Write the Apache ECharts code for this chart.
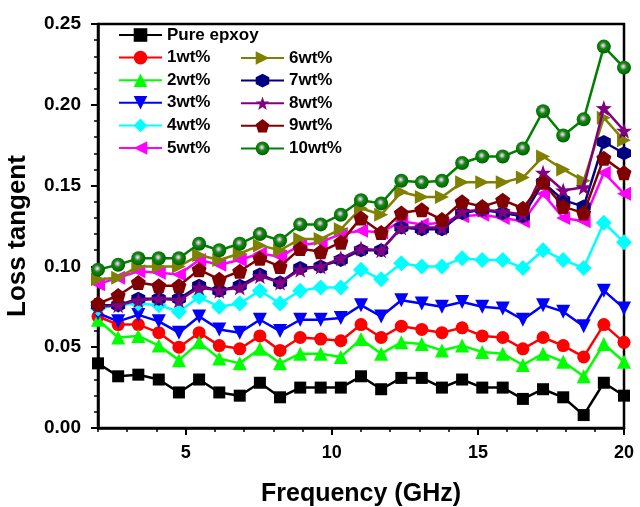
<!DOCTYPE html>
<html>
<head>
<meta charset="utf-8">
<script src="https://cdn.jsdelivr.net/npm/echarts@6/dist/echarts.min.js"></script>
<style>
html,body{margin:0;padding:0;background:#fff;}
#chart{width:640px;height:507px;}
</style>
</head>
<body>
<div id="chart"></div>
<script>
// Frequency points (GHz) where markers are drawn
const freq = [2.00, 2.69, 3.38, 4.08, 4.77, 5.46, 6.15, 6.85, 7.54, 8.23, 8.92, 9.62, 10.31, 11.00, 11.69, 12.38, 13.08, 13.77, 14.46, 15.15, 15.85, 16.54, 17.23, 17.92, 18.62, 19.31, 20.00];

const pureEpoxy = [0.040, 0.032, 0.033, 0.030, 0.022, 0.030, 0.022, 0.020, 0.028, 0.019, 0.025, 0.025, 0.025, 0.032, 0.024, 0.031, 0.031, 0.025, 0.030, 0.025, 0.025, 0.018, 0.024, 0.019, 0.008, 0.028, 0.020];
const wt1 = [0.069, 0.064, 0.064, 0.059, 0.050, 0.059, 0.051, 0.049, 0.057, 0.048, 0.056, 0.055, 0.054, 0.064, 0.056, 0.063, 0.061, 0.059, 0.062, 0.057, 0.056, 0.049, 0.056, 0.051, 0.044, 0.064, 0.053];
const wt2 = [0.067, 0.056, 0.057, 0.051, 0.042, 0.053, 0.043, 0.040, 0.049, 0.040, 0.046, 0.046, 0.044, 0.055, 0.046, 0.053, 0.052, 0.048, 0.051, 0.047, 0.046, 0.039, 0.046, 0.041, 0.032, 0.052, 0.041];
const wt3 = [0.071, 0.066, 0.070, 0.066, 0.059, 0.069, 0.061, 0.059, 0.067, 0.060, 0.067, 0.067, 0.068, 0.076, 0.069, 0.079, 0.077, 0.075, 0.078, 0.075, 0.074, 0.067, 0.076, 0.072, 0.063, 0.085, 0.074];
const wt4 = [0.074, 0.076, 0.077, 0.076, 0.072, 0.081, 0.075, 0.077, 0.085, 0.077, 0.085, 0.087, 0.087, 0.098, 0.092, 0.102, 0.100, 0.100, 0.105, 0.104, 0.104, 0.099, 0.110, 0.104, 0.099, 0.127, 0.115];
const wt5 = [0.089, 0.093, 0.097, 0.096, 0.095, 0.104, 0.101, 0.104, 0.108, 0.106, 0.113, 0.115, 0.120, 0.122, 0.121, 0.128, 0.126, 0.127, 0.131, 0.132, 0.130, 0.128, 0.145, 0.130, 0.128, 0.158, 0.145];
const wt6 = [0.092, 0.093, 0.100, 0.100, 0.100, 0.107, 0.104, 0.108, 0.113, 0.110, 0.117, 0.117, 0.123, 0.136, 0.132, 0.146, 0.143, 0.143, 0.152, 0.152, 0.152, 0.155, 0.168, 0.160, 0.153, 0.192, 0.178];
const wt7 = [0.076, 0.076, 0.080, 0.080, 0.080, 0.088, 0.085, 0.088, 0.095, 0.090, 0.099, 0.100, 0.104, 0.110, 0.110, 0.124, 0.123, 0.123, 0.133, 0.135, 0.133, 0.131, 0.152, 0.141, 0.137, 0.177, 0.170];
const wt8 = [0.075, 0.076, 0.079, 0.080, 0.079, 0.087, 0.085, 0.087, 0.094, 0.090, 0.098, 0.100, 0.105, 0.111, 0.110, 0.124, 0.124, 0.124, 0.134, 0.135, 0.134, 0.132, 0.158, 0.147, 0.149, 0.198, 0.184];
const wt9 = [0.077, 0.082, 0.090, 0.088, 0.088, 0.098, 0.092, 0.097, 0.105, 0.100, 0.111, 0.109, 0.115, 0.130, 0.121, 0.133, 0.135, 0.129, 0.140, 0.137, 0.141, 0.136, 0.152, 0.137, 0.133, 0.167, 0.158];
const wt10 = [0.098, 0.101, 0.105, 0.105, 0.105, 0.114, 0.110, 0.114, 0.120, 0.116, 0.126, 0.126, 0.132, 0.141, 0.139, 0.153, 0.152, 0.153, 0.164, 0.168, 0.168, 0.173, 0.196, 0.181, 0.191, 0.236, 0.223];

const seriesNames = ['Pure epxoy', '1wt%', '2wt%', '3wt%', '4wt%', '5wt%', '6wt%', '7wt%', '8wt%', '9wt%', '10wt%'];
const xMajorTicks = [5, 10, 15, 20];

const hexagon = 'path://M0,-10 L8.66,-5 L8.66,5 L0,10 L-8.66,5 L-8.66,-5Z';
const pentagon = 'path://M0,-10 L9.51,-3.09 L5.88,8.09 L-5.88,8.09 L-9.51,-3.09Z';
const star = 'path://M0,-10 L2.35,-3.24 L9.51,-3.09 L3.80,1.24 L5.88,8.09 L0,4 L-5.88,8.09 L-3.80,1.24 L-9.51,-3.09 L-2.35,-3.24Z';

const styles = [
  {color: '#000000', symbol: 'rect', size: 12, rot: 0},
  {color: '#ff0000', symbol: 'circle', size: 13, rot: 0},
  {color: '#00ff00', symbol: 'triangle', size: 14, rot: 0},
  {color: '#0000ff', symbol: 'triangle', size: 14, rot: 180},
  {color: '#00ffff', symbol: 'diamond', size: 16, rot: 0},
  {color: '#ff00ff', symbol: 'triangle', size: 14, rot: 90},
  {color: '#808000', symbol: 'triangle', size: 14, rot: -90},
  {color: '#000080', symbol: hexagon, size: 14, rot: 0},
  {color: '#800080', symbol: star, size: 16, rot: 0},
  {color: '#800000', symbol: pentagon, size: 15, rot: 0},
  {color: '#008000', symbol: 'circle', size: 14, rot: 0}
];
const values = [pureEpoxy, wt1, wt2, wt3, wt4, wt5, wt6, wt7, wt8, wt9, wt10];

const series = values.map((vals, k) => {
  const st = styles[k];
  let itemColor = st.color;
  if (k === 10) {
    itemColor = {
      type: 'radial', x: 0.45, y: 0.42, r: 0.55,
      colorStops: [
        {offset: 0, color: '#f0f0f0'},
        {offset: 0.25, color: '#a0a0a0'},
        {offset: 0.45, color: '#108a10'},
        {offset: 1, color: '#006400'}
      ]
    };
  }
  return {
    name: seriesNames[k],
    type: 'line',
    data: freq.map((f, i) => [f, vals[i]]),
    symbol: st.symbol,
    symbolSize: st.size,
    symbolRotate: st.rot,
    showAllSymbol: true,
    lineStyle: {color: st.color, width: 2.5},
    itemStyle: {color: itemColor, borderWidth: 0},
    emphasis: {disabled: true},
    z: 3 + k
  };
});

const chart = echarts.init(document.getElementById('chart'));
const fontFam = '"Liberation Sans", Arial, sans-serif';
const legendText = {fontFamily: fontFam, fontWeight: 'bold', fontSize: 17, color: '#000', lineHeight: 17};
chart.setOption({
  animation: false,
  backgroundColor: '#ffffff',
  grid: {left: 98, right: 16, top: 24, bottom: 79, containLabel: false, outerBoundsMode: 'none', show: true, borderColor: '#000', borderWidth: 2.5, backgroundColor: 'transparent'},
  legend: [
    {
      data: seriesNames.slice(0, 6),
      orient: 'vertical', left: 113, top: 21.5,
      itemWidth: 43, itemHeight: 17, itemGap: 5.6,
      textStyle: legendText,
      selectedMode: false
    },
    {
      data: seriesNames.slice(6),
      orient: 'vertical', left: 235, top: 44.5,
      itemWidth: 43, itemHeight: 17, itemGap: 5.6,
      textStyle: legendText,
      selectedMode: false
    }
  ],
  xAxis: [
    {
      type: 'value', min: 2, max: 20, interval: 1,
      name: 'Frequency (GHz)', nameLocation: 'middle', nameGap: 54,
      nameTextStyle: {fontFamily: fontFam, fontWeight: 'bold', fontSize: 25, color: '#000'},
      axisLine: {show: true, lineStyle: {color: '#000', width: 2.5}},
      axisTick: {show: true, length: 4, lineStyle: {color: '#000', width: 1.5}},
      axisLabel: {show: false},
      splitLine: {show: false}
    },
    {
      type: 'value', min: 2, max: 20, position: 'bottom',
      axisLine: {show: false},
      axisTick: {show: true, length: 7, customValues: xMajorTicks, lineStyle: {color: '#000', width: 2}},
      axisLabel: {show: true, customValues: xMajorTicks, margin: 16, fontFamily: fontFam, fontWeight: 'bold', fontSize: 18, color: '#000'},
      splitLine: {show: false}
    }
  ],
  yAxis: {
    type: 'value', min: 0, max: 0.25, interval: 0.05,
    name: 'Loss tangent', nameLocation: 'middle', nameGap: 67,
    nameTextStyle: {fontFamily: fontFam, fontWeight: 'bold', fontSize: 26, color: '#000', padding: [0, 20, 0, 0]},
    axisLine: {show: true, lineStyle: {color: '#000', width: 2.5}},
    axisTick: {show: true, length: 7, lineStyle: {color: '#000', width: 2}},
    minorTick: {show: true, splitNumber: 5, length: 4, lineStyle: {color: '#000', width: 1.5}},
    axisLabel: {margin: 17, fontFamily: fontFam, fontWeight: 'bold', fontSize: 19, color: '#000', formatter: v => v.toFixed(2)},
    splitLine: {show: false}
  },
  series: series
});
</script>
</body>
</html>
